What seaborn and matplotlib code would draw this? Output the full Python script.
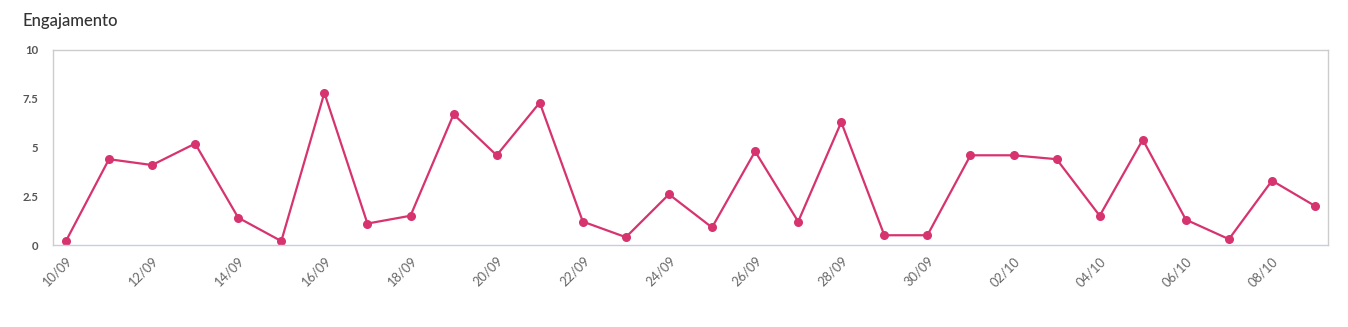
import matplotlib
matplotlib.use("Agg")
import matplotlib.pyplot as plt
import seaborn as sns
import pandas as pd

dates = ["10/09", "11/09", "12/09", "13/09", "14/09", "15/09", "16/09", "17/09",
         "18/09", "19/09", "20/09", "21/09", "22/09", "23/09", "24/09", "25/09",
         "26/09", "27/09", "28/09", "29/09", "30/09", "01/10", "02/10", "03/10",
         "04/10", "05/10", "06/10", "07/10", "08/10", "09/10"]
engajamento = [0.2, 4.4, 4.1, 5.2, 1.4, 0.2, 7.8, 1.1, 1.5, 6.7, 4.6, 7.3, 1.2, 0.4,
               2.6, 0.9, 4.8, 1.2, 6.3, 0.5, 0.5, 4.6, 4.6, 4.4, 1.5, 5.4, 1.3, 0.3,
               3.3, 2.0]
y_ticks = [0, 2.5, 5, 7.5, 10]
y_tick_labels = ["0", "2.5", "5", "7.5", "10"]

sns.set_theme(style="white")
plt.rcParams["font.family"] = ["Lato", "DejaVu Sans"]

df = pd.DataFrame({"pos": range(len(dates)), "data": dates, "valor": engajamento})

fig = plt.figure(figsize=(13.48, 3.27), dpi=100)
ax = fig.add_axes([53 / 1348, 1 - 245 / 327, (1328 - 53) / 1348, (245 - 50) / 327])

color = "#d6336f"
sns.lineplot(data=df, x="pos", y="valor", ax=ax, color=color, linewidth=1.6,
             marker="o", markersize=6.5, markeredgewidth=0, markeredgecolor=color)

ax.set_xlim(-0.30, len(dates) - 1 + 0.30)
ax.set_ylim(0, 10)
ax.set_xlabel("")
ax.set_ylabel("")

ax.set_yticks(y_ticks)
ax.set_yticklabels(y_tick_labels, fontsize=8.2, fontweight="bold", color="#555555")
ax.set_xticks(df["pos"][::2])
ax.set_xticklabels(df["data"][::2], rotation=45, ha="right", rotation_mode="anchor",
                   fontsize=9.3, color="#666666")
ax.tick_params(axis="y", length=0, pad=10.5)
ax.tick_params(axis="x", length=0, pad=7)

for side in ["top", "right", "left"]:
    ax.spines[side].set_color("#cccccc")
    ax.spines[side].set_linewidth(1.0)
ax.spines["bottom"].set_color("#c5cfe3")
ax.spines["bottom"].set_linewidth(1.0)
ax.grid(False)

fig.text(22 / 1348, 1 - 21 / 327, "Engajamento", fontsize=12, color="#333333",
         ha="left", va="center", fontweight="medium")

fig.savefig("out.png", dpi=100)
